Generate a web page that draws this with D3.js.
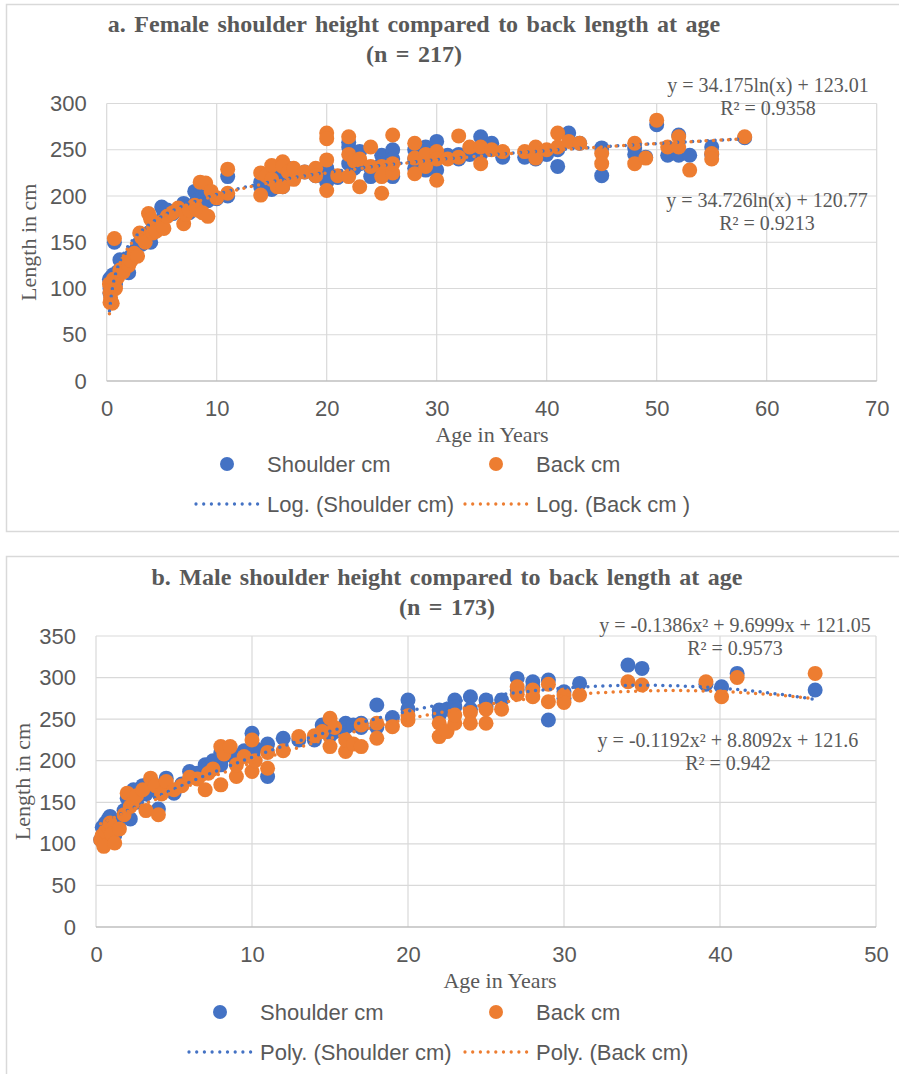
<!DOCTYPE html>
<html>
<head>
<meta charset="utf-8">
<script src="https://cdn.jsdelivr.net/npm/d3@7"></script>
<style>
  body { margin: 0; background: #fff; }
</style>
</head>
<body>
<svg id="chart" width="899" height="1074"></svg>
<script>
// ---- panel a: females ----
const femaleAge = [
  0.25, 0.3, 0.3, 0.35, 0.4, 0.5, 0.6, 0.7, 0.8, 1.0,
  1.2, 1.5, 1.8, 2.0, 2.2, 2.5, 2.8, 3.0, 3.2, 3.5,
  3.8, 4.0, 4.2, 4.5, 5.0, 5.2, 5.5, 6.0, 6.5, 7.0,
  7.2, 7.5, 8.0, 8.2, 8.5, 8.7, 9.0, 9.2, 9.5, 10,
  11, 11, 14, 14, 14.5, 15, 15, 15.5, 16, 16,
  16, 16.5, 17, 17, 18, 19, 19, 20, 20, 20,
  20, 21, 22, 22, 22, 22.5, 23, 23, 24, 24,
  25, 25, 25, 26, 26, 26, 28, 28, 28, 29,
  29, 30, 30, 30, 31, 32, 32, 33, 34, 34,
  35, 36, 38, 39, 39, 40, 41, 41, 42, 43,
  45, 45, 48, 48, 49, 50, 51, 52, 52, 53,
  55, 55, 58];
const femaleShoulder = [
  110, 100, 95, 105, 112, 108, 115, 150, 105, 118,
  131, 125, 118, 117, 135, 140, 145, 150, 148, 152,
  160, 150, 165, 170, 188, 180, 185, 181, 185, 192,
  188, 182, 205, 195, 210, 200, 205, 195, 200, 197,
  221, 200, 215, 210, 220, 207, 225, 230, 215, 225,
  210, 230, 228, 225, 226, 222, 228, 230, 225, 230,
  215, 220, 258, 253, 235, 230, 248, 235, 230, 221,
  244, 235, 222, 250, 221, 240, 250, 230, 240, 253,
  228, 259, 228, 245, 244, 245, 240, 245, 264, 245,
  257, 242, 242, 245, 240, 245, 232, 250, 268, 257,
  252, 222, 252, 245, 242, 277, 244, 266, 244, 244,
  253, 245, 263];
const femaleBack = [
  105, 96, 85, 90, 100, 84, 110, 154, 100, 112,
  120, 118, 128, 125, 130, 138, 135, 160, 155, 150,
  181, 175, 160, 162, 172, 165, 178, 182, 187, 170,
  180, 185, 190, 185, 215, 182, 214, 178, 205, 198,
  229, 203, 225, 201, 222, 233, 218, 210, 237, 232,
  210, 226, 218, 230, 226, 230, 222, 268, 262, 239,
  206, 222, 264, 245, 221, 238, 240, 210, 253, 232,
  203, 232, 221, 266, 225, 235, 257, 241, 224, 245,
  232, 248, 217, 240, 240, 265, 242, 253, 253, 235,
  250, 248, 248, 253, 241, 250, 268, 253, 259, 257,
  246, 235, 257, 235, 241, 282, 253, 264, 253, 228,
  246, 240, 264];
const femaleTicksX = [0, 10, 20, 30, 40, 50, 60, 70];
const femaleTicksY = [0, 50, 100, 150, 200, 250, 300];
// log trend coefficients [a, b] for y = a ln(x) + b
const femaleShoulderFit = [34.175, 123.01];
const femaleBackFit = [34.726, 120.77];

// ---- panel b: males ----
const maleAge = [
  0.3, 0.4, 0.5, 0.6, 0.8, 0.9, 1.0, 1.2, 1.5, 1.8,
  2.0, 2.2, 2.4, 2.6, 3.0, 3.2, 3.5, 3.8, 4.0, 4.2,
  4.5, 5.0, 5.5, 6.0, 6.5, 7.0, 7.2, 7.5, 8.0, 8.0,
  8.2, 8.6, 9.0, 9.0, 9.5, 10, 10, 10.2, 11, 11,
  12, 13, 14, 14.5, 15, 15, 15.3, 16, 16, 16.5,
  17, 17, 18, 18, 19, 20, 20, 22, 22, 22.5,
  23, 23, 24, 24, 25, 25, 26, 27, 27, 28,
  28, 29, 29, 30, 30, 31, 34.1, 35, 39.1, 40.1,
  41.1, 46.1];
const maleShoulder = [
  105, 120, 115, 125, 130, 133, 122, 110, 128, 140,
  155, 130, 165, 150, 170, 160, 175, 165, 142, 170,
  179, 161, 172, 187, 185, 195, 192, 200, 210, 195,
  205, 210, 200, 205, 212, 233, 210, 215, 181, 220,
  227, 225, 225, 243, 240, 230, 235, 245, 240, 243,
  240, 245, 267, 240, 252, 273, 262, 261, 255, 262,
  273, 265, 277, 262, 273, 265, 273, 299, 285, 295,
  288, 297, 249, 283, 275, 293, 315, 311, 292, 289,
  305, 285];
const maleBack = [
  105, 110, 97, 115, 120, 125, 112, 101, 118, 135,
  161, 145, 150, 158, 165, 140, 179, 170, 135, 160,
  175, 165, 170, 180, 178, 165, 185, 190, 217, 171,
  208, 217, 181, 195, 205, 225, 187, 200, 191, 210,
  212, 229, 230, 235, 251, 217, 240, 211, 225, 220,
  217, 243, 227, 245, 241, 254, 249, 229, 245, 235,
  245, 255, 258, 245, 245, 262, 262, 289, 280, 285,
  277, 292, 271, 279, 270, 279, 295, 291, 295, 277,
  300, 305];
const maleTicksX = [0, 10, 20, 30, 40, 50];
const maleTicksY = [0, 50, 100, 150, 200, 250, 300, 350];
// quadratic trend coefficients [a, b, c] for y = a x^2 + b x + c
const maleShoulderFit = [-0.1386, 9.6999, 121.05];
const maleBackFit = [-0.1192, 8.8092, 121.6];

const BLUE = '#4472c4';
const ORANGE = '#ed7d31';
const TEXT = '#595959';
const SANS = "'Liberation Sans', Arial, sans-serif";
const SERIF = "'Liberation Serif', 'Times New Roman', serif";

const svg = d3.select('#chart');

const logFit = ([a, b]) => (x) => a * Math.log(x) + b;
const polyFit = ([a, b, c]) => (x) => a * x * x + b * x + c;

function drawPanel(cfg) {
  const g = svg.append('g');

  g.append('rect')
    .attr('x', 6.5).attr('y', cfg.frameTop + 0.5)
    .attr('width', 894).attr('height', cfg.frameHeight)
    .attr('fill', '#fff').attr('stroke', '#d9d9d9').attr('stroke-width', 1.5);

  const x = d3.scaleLinear().domain(d3.extent(cfg.ticksX)).range(cfg.xRange);
  const y = d3.scaleLinear().domain(d3.extent(cfg.ticksY)).range(cfg.yRange);

  // gridlines
  g.append('g').selectAll('line').data(cfg.ticksX).join('line')
    .attr('x1', (d) => x(d)).attr('x2', (d) => x(d))
    .attr('y1', y.range()[0]).attr('y2', y.range()[1])
    .attr('stroke', '#d9d9d9').attr('stroke-width', 1.2);
  g.append('g').selectAll('line').data(cfg.ticksY.slice(1)).join('line')
    .attr('x1', x.range()[0]).attr('x2', x.range()[1])
    .attr('y1', (d) => y(d)).attr('y2', (d) => y(d))
    .attr('stroke', '#d9d9d9').attr('stroke-width', 1.2);
  g.append('line')
    .attr('x1', x.range()[0]).attr('x2', x.range()[1])
    .attr('y1', y(0)).attr('y2', y(0))
    .attr('stroke', '#bfbfbf').attr('stroke-width', 1.5);

  // axes (labels only)
  const yAxis = g.append('g')
    .attr('transform', `translate(${x.range()[0]},0)`)
    .call(d3.axisLeft(y).tickValues(cfg.ticksY).tickSize(0).tickPadding(20));
  const xAxis = g.append('g')
    .attr('transform', `translate(0,${y(0)})`)
    .call(d3.axisBottom(x).tickValues(cfg.ticksX).tickSize(0).tickPadding(19));
  [yAxis, xAxis].forEach((ax) => {
    ax.select('.domain').remove();
    ax.selectAll('text')
      .attr('font-family', SANS).attr('font-size', 22).attr('fill', TEXT);
  });

  // markers: shoulder first, back on top
  [[cfg.shoulder, BLUE], [cfg.back, ORANGE]].forEach(([vals, color]) => {
    g.append('g').selectAll('circle').data(cfg.age).join('circle')
      .attr('cx', (d) => x(d))
      .attr('cy', (d, i) => y(vals[i]))
      .attr('r', 7.5)
      .attr('fill', color);
  });

  // trendlines
  const lo = d3.min(cfg.age);
  const hi = d3.max(cfg.age);
  const xs = d3.range(lo, hi, (hi - lo) / 300).concat([hi]);
  const line = d3.line().x((d) => x(d[0])).y((d) => y(d[1]));
  [[cfg.shoulderFn, BLUE], [cfg.backFn, ORANGE]].forEach(([fn, color]) => {
    g.append('path')
      .attr('d', line(xs.map((v) => [v, fn(v)])))
      .attr('fill', 'none')
      .attr('stroke', color)
      .attr('stroke-width', 3.5)
      .attr('stroke-linecap', 'round')
      .attr('stroke-dasharray', '0 7.5');
  });

  // titles
  const title = g.append('text')
    .attr('font-family', SERIF).attr('font-size', 24).attr('font-weight', 'bold')
    .attr('fill', TEXT).attr('text-anchor', 'middle')
    .style('word-spacing', '2.5px');
  cfg.title.forEach((t, i) => {
    title.append('tspan').attr('x', cfg.titleX).attr('y', cfg.titleY + i * 30).text(t);
  });

  // equations
  cfg.equations.forEach((eq) => {
    const t = g.append('text')
      .attr('font-family', SERIF).attr('font-size', 20)
      .attr('fill', TEXT).attr('text-anchor', 'middle');
    eq.lines.forEach((s, i) => {
      t.append('tspan').attr('x', eq.x).attr('y', eq.y + i * 23).text(s);
    });
  });

  // axis titles
  g.append('text')
    .attr('transform', `translate(${cfg.yTitleX},${(y.range()[0] + y.range()[1]) / 2}) rotate(-90)`)
    .attr('font-family', SERIF).attr('font-size', 22).attr('fill', TEXT)
    .attr('text-anchor', 'middle').text('Length in cm');
  g.append('text')
    .attr('x', cfg.xTitleX).attr('y', y(0) + 61)
    .attr('font-family', SERIF).attr('font-size', 22).attr('fill', TEXT)
    .attr('text-anchor', 'middle').text('Age in Years');

  // legend
  const ly = cfg.legendY;
  const legendItems = [
    { kind: 'dot', color: BLUE, x: cfg.legendX[0], y: ly, label: 'Shoulder cm' },
    { kind: 'dot', color: ORANGE, x: 496, y: ly, label: 'Back cm' },
    { kind: 'line', color: BLUE, x: cfg.legendX[0], y: ly + 40, label: cfg.trendLabels[0] },
    { kind: 'line', color: ORANGE, x: 496, y: ly + 40, label: cfg.trendLabels[1] },
  ];
  legendItems.forEach((it) => {
    if (it.kind === 'dot') {
      g.append('circle').attr('cx', it.x).attr('cy', it.y).attr('r', 7).attr('fill', it.color);
    } else {
      g.append('line')
        .attr('x1', it.x - 31).attr('x2', it.x + 31)
        .attr('y1', it.y).attr('y2', it.y)
        .attr('stroke', it.color).attr('stroke-width', 3.3)
        .attr('stroke-linecap', 'round').attr('stroke-dasharray', '0 7.7');
    }
    g.append('text')
      .attr('x', it.x + 40).attr('y', it.y + 8)
      .attr('font-family', SANS).attr('font-size', 22).attr('fill', TEXT)
      .text(it.label);
  });
}

drawPanel({
  frameTop: 4, frameHeight: 527,
  xRange: [106.7, 876.7], yRange: [381, 103.5],
  ticksX: femaleTicksX, ticksY: femaleTicksY,
  age: femaleAge, shoulder: femaleShoulder, back: femaleBack,
  shoulderFn: logFit(femaleShoulderFit), backFn: logFit(femaleBackFit),
  title: ['a. Female shoulder height compared to back length at age', '(n = 217)'],
  titleX: 414, titleY: 32,
  equations: [
    { x: 768, y: 92, lines: ['y = 34.175ln(x) + 123.01', 'R² = 0.9358'] },
    { x: 767, y: 207, lines: ['y = 34.726ln(x) + 120.77', 'R² = 0.9213'] },
  ],
  yTitleX: 36, xTitleX: 492,
  legendY: 464, legendX: [227],
  trendLabels: ['Log. (Shoulder cm)', 'Log. (Back cm )'],
});

drawPanel({
  frameTop: 556, frameHeight: 530,
  xRange: [96, 876], yRange: [927, 636],
  ticksX: maleTicksX, ticksY: maleTicksY,
  age: maleAge, shoulder: maleShoulder, back: maleBack,
  shoulderFn: polyFit(maleShoulderFit), backFn: polyFit(maleBackFit),
  title: ['b. Male shoulder height compared to back length at age', '(n = 173)'],
  titleX: 447, titleY: 585,
  equations: [
    { x: 735, y: 632, lines: ['y = -0.1386x² + 9.6999x + 121.05', 'R² = 0.9573'] },
    { x: 728, y: 747, lines: ['y = -0.1192x² + 8.8092x + 121.6', 'R² = 0.942'] },
  ],
  yTitleX: 30, xTitleX: 500,
  legendY: 1012, legendX: [220],
  trendLabels: ['Poly. (Shoulder cm)', 'Poly. (Back cm)'],
});
</script>
</body>
</html>
